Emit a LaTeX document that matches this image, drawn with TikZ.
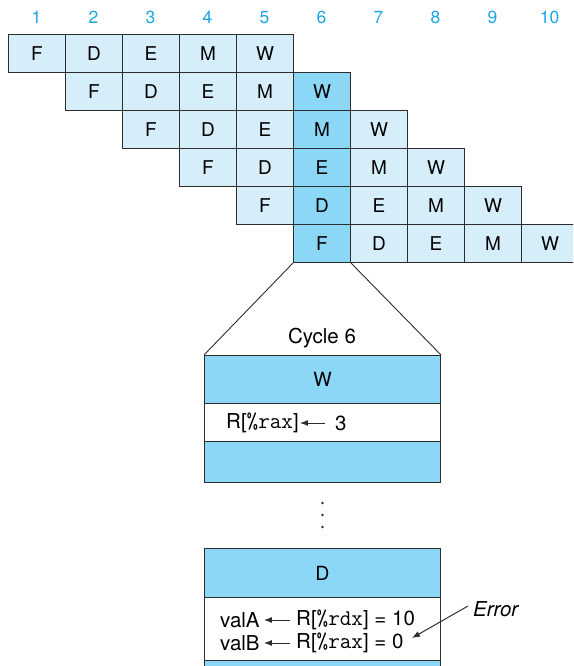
\documentclass[tikz,border=0pt]{standalone}
\usepackage{fontspec}
\setmainfont{TeX Gyre Heros}
\usetikzlibrary{arrows.meta}
\definecolor{lightcell}{RGB}{214,238,250}
\definecolor{darkcell}{RGB}{141,215,246}
\definecolor{numcol}{RGB}{28,166,232}
\definecolor{edgecol}{RGB}{45,45,45}
\newcommand{\regnm}[1]{{\ttfamily\fontsize{22.5}{24}\selectfont #1}}
\begin{document}
\begin{tikzpicture}[x=1pt,y=-1pt,
  cellbox/.style={draw=edgecol, line width=1pt, minimum width=57pt, minimum height=38pt,
    inner sep=0pt, anchor=north west, font=\fontsize{19}{22}\selectfont},
  numlab/.style={text=numcol, font=\fontsize{17.5}{20}\selectfont},
  band/.style={draw=edgecol, line width=1pt, minimum width=236pt, inner sep=0pt,
    anchor=north west, font=\fontsize{19.5}{22}\selectfont},
  txt/.style={inner sep=0pt, font=\fontsize{20.5}{24}\selectfont},
  arr/.style={-{Latex[length=8pt,width=6pt]}, line width=1pt, edgecol},
  zoomline/.style={line width=0.9pt, edgecol}]
\useasboundingbox (0,0) rectangle (573,666);
\clip (0,0) rectangle (573,666);
% cycle numbers
\foreach \c in {1,...,10} {
  \node[numlab] (n\c) at ({8+57*(\c-1)+28.5},17.5) {\c};
}
% pipeline grid
\foreach \r in {1,...,6} {
  \foreach \s [count=\k from 0] in {F,D,E,M,W} {
    \pgfmathtruncatemacro\c{\r+\k}
    \def\fc{lightcell}
    \ifnum\c=6 \def\fc{darkcell}\fi
    \node[cellbox, fill=\fc] (c-\r-\c) at ({8+57*(\c-1)},{34+38*(\r-1)}) {\s};
  }
}
% cycle 6 expanded box
\node[band, fill=darkcell, minimum height=48pt] (w6) at (204,355) {W};
\node[band, fill=white, minimum height=38pt] (m6) at (204,403) {};
\node[band, fill=darkcell, minimum height=41pt] (b6) at (204,441) {};
\node[txt] (cyc) at (322,338) {Cycle 6};
\draw[zoomline] (c-6-6.south west) -- (w6.north west);
\draw[zoomline] (c-6-6.south east) -- (w6.north east);
\node[txt, anchor=west] (rax) at (226,423) {R[\regnm{\%rax}]};
\node[txt, anchor=west] (three) at (335,423) {3};
\draw[arr] ([xshift=-10pt]three.west) -- ([xshift=1pt]rax.east);
% dots
\fill[edgecol] (322.5,503) circle (1.4);
\fill[edgecol] (322.5,515) circle (1.4);
\fill[edgecol] (322.5,527) circle (1.4);
% D box
\node[band, fill=darkcell, minimum height=49pt] (dd) at (204,548) {D};
\node[band, fill=white, minimum height=63pt] (dm) at (204,597) {};
\node[band, fill=darkcell, minimum height=30pt] (db) at (204,660) {};
\node[txt, anchor=west] (va) at (220,620) {valA};
\node[txt, anchor=west] (ra) at (296,620) {R[\regnm{\%rdx}] = 10};
\node[txt, anchor=west] (vb) at (220,643) {valB};
\node[txt, anchor=west] (rb) at (296,643) {R[\regnm{\%rax}] = 0};
\draw[arr] ([xshift=-6pt]ra.west) -- ([xshift=4pt]va.east);
\draw[arr] ([xshift=-6pt]rb.west) -- ([xshift=4pt]vb.east);
\node[txt, anchor=west, font=\fontsize{20.5}{24}\selectfont\itshape] (err) at (473,609) {Error};
\coordinate (errtip) at (412,638);
\draw[arr] ([xshift=-5pt,yshift=3pt]err.west) -- (errtip);
\end{tikzpicture}
\end{document}
